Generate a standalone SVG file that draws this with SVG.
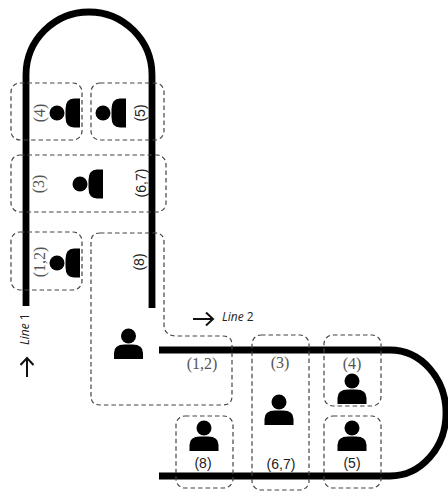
<svg xmlns="http://www.w3.org/2000/svg" width="448" height="491" viewBox="0 0 448 491">
<style>
.box{fill:none;stroke:#444;stroke-width:1.2;stroke-dasharray:4.5 3}
.track{fill:none;stroke:#000;stroke-width:6.8}
.arrow{fill:none;stroke:#111;stroke-width:2}
.s{font-family:"Liberation Serif",serif;font-size:16px;fill:#555;text-anchor:middle}
.a{font-family:"Liberation Sans",sans-serif;font-size:14px;fill:#222;text-anchor:middle}
.l{font-family:"Open Sans","Liberation Sans",sans-serif;font-size:12px;fill:#222}
</style>
<defs>
<g id="p">
<circle cx="0" cy="-14" r="7.500" fill="#000"/>
<path d="M-14.500 9V3Q-14.500-5.500-4-5.500H4Q14.500-5.500 14.500 3V9Z" fill="#000"/>
</g>
</defs>
<g id="connectors">
<path class="track" d="M26 306V75A63 63 0 0 1 152 75V308"/>
<path class="track" d="M159 350H390A56 63 0 0 1 390 476H159"/>
<path class="arrow" d="M27 377V358M20.500 365L27 358L33.500 365"/>
<path class="arrow" d="M193 319H213M206 312.500L213 319L206 325.500"/>
</g>
<g id="line1"><text class="l" transform="translate(29 345) rotate(-90)"><tspan font-style="italic">Line</tspan> 1</text></g>
<g id="line2"><text class="l" x="222" y="321"><tspan font-style="italic">Line</tspan> 2</text></g>
<g id="n-v4"><rect class="box" x="11" y="83" width="71" height="57" rx="9"/><use href="#p" transform="translate(71 113) rotate(-90)"/><text class="s" transform="translate(45 113) rotate(-90)">(4)</text></g>
<g id="n-v5"><rect class="box" x="91" y="83" width="73" height="57" rx="9"/><use href="#p" transform="translate(117 113) rotate(-90)"/><text class="a" transform="translate(145 113) rotate(-90)">(5)</text></g>
<g id="n-v36"><rect class="box" x="11" y="155" width="155" height="57" rx="9"/><use href="#p" transform="translate(94 184) rotate(-90)"/><text class="s" transform="translate(44 184) rotate(-90)">(3)</text><text class="a" transform="translate(146 183) rotate(-90)">(6,7)</text></g>
<g id="n-v12"><rect class="box" x="11" y="232" width="71" height="58" rx="9"/><use href="#p" transform="translate(71 263) rotate(-90)"/><text class="s" transform="translate(45 262) rotate(-90)">(1,2)</text></g>
<g id="n-big"><path class="box" d="M100 233H155Q164 233 164 242V324Q164 336 176 336H223Q232 336 232 345V396Q232 405 223 405H100Q91 405 91 396V242Q91 233 100 233Z"/><use href="#p" transform="translate(128.500 350)"/><text class="a" transform="translate(144 262) rotate(-90)">(8)</text><text class="s" x="202" y="369">(1,2)</text></g>
<g id="n-h3"><rect class="box" x="252" y="335" width="57" height="155" rx="9"/><use href="#p" transform="translate(279 416)"/><text class="s" x="280" y="368">(3)</text><text class="a" x="281" y="469">(6,7)</text></g>
<g id="n-h4"><rect class="box" x="324" y="335" width="57" height="71" rx="9"/><use href="#p" transform="translate(352 395)"/><text class="s" x="352" y="369">(4)</text></g>
<g id="n-h5"><rect class="box" x="324" y="416" width="57" height="72" rx="9"/><use href="#p" transform="translate(352 442)"/><text class="a" x="352" y="468">(5)</text></g>
<g id="n-h8"><rect class="box" x="176" y="416" width="57" height="72" rx="9"/><use href="#p" transform="translate(204 442)"/><text class="a" x="203" y="468">(8)</text></g>
</svg>
